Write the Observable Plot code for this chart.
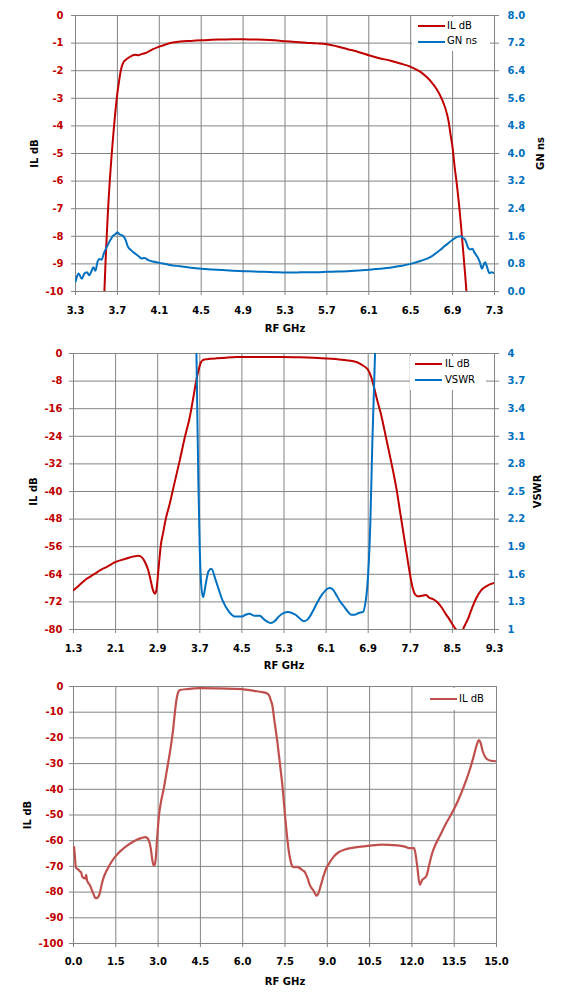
<!DOCTYPE html>
<html><head><meta charset="utf-8">
<script src="https://cdn.jsdelivr.net/npm/d3@7"></script>
<script src="https://cdn.jsdelivr.net/npm/@observablehq/plot@0.6"></script>
<style>
html,body{margin:0;padding:0;background:#fff;}
body{width:564px;height:1005px;overflow:hidden;position:relative;font-family:"DejaVu Sans",sans-serif;}
.panel{position:absolute;left:0;}
.panel svg{overflow:visible;}
.legend{position:absolute;background:#fff;z-index:2;}
.legend .sw{position:absolute;height:2px;}
.legend .tx{position:absolute;white-space:nowrap;color:#000;}
</style></head>
<body>
<div id="p1" class="panel" style="top:0px"></div>
<div id="p2" class="panel" style="top:340px"></div>
<div id="p3" class="panel" style="top:675px"></div>
<script>
// ---------- Chart 1 : IL dB + GN ns (3.3 - 7.3 GHz)
const c1XTicks = [3.3,3.7,4.1,4.5,4.9,5.3,5.7,6.1,6.5,6.9,7.3];
const c1YTicks = [0,-1,-2,-3,-4,-5,-6,-7,-8,-9,-10];
const c1IlFreq = [3.57,3.576,3.586,3.598,3.611,3.627,3.646,3.668,3.694,3.715,3.732,3.757,3.789,3.837,3.87,3.9,3.93,3.96,4.0,4.04,4.1,4.16,4.23,4.3,4.4,4.5,4.6,4.7,4.8,4.9,5.0,5.1,5.2,5.3,5.4,5.5,5.6,5.7,5.8,5.9,6.0,6.1,6.2,6.3,6.4,6.5,6.55,6.6,6.65,6.7,6.75,6.8,6.83,6.86,6.88,6.9,6.92,6.94,6.96,6.98,7.0,7.02,7.035,7.04];
const c1IlDb   = [-10.6,-10,-9,-8,-7,-6,-5,-4,-3,-2.4,-2.0,-1.7,-1.58,-1.46,-1.42,-1.44,-1.40,-1.37,-1.30,-1.22,-1.13,-1.05,-0.98,-0.94,-0.92,-0.90,-0.88,-0.87,-0.86,-0.86,-0.87,-0.88,-0.90,-0.93,-0.96,-0.99,-1.01,-1.04,-1.12,-1.22,-1.32,-1.44,-1.55,-1.63,-1.74,-1.86,-1.95,-2.06,-2.22,-2.42,-2.68,-3.05,-3.35,-3.8,-4.3,-4.8,-5.5,-6.1,-6.8,-7.6,-8.5,-9.4,-10.2,-10.6];
const c1GnFreq = [3.3,3.32,3.33,3.36,3.385,3.41,3.43,3.45,3.47,3.49,3.51,3.53,3.55,3.57,3.6,3.63,3.66,3.68,3.7,3.72,3.75,3.78,3.8,3.83,3.86,3.9,3.93,3.96,4.0,4.05,4.1,4.2,4.3,4.4,4.5,4.6,4.7,4.8,4.9,5.0,5.1,5.2,5.3,5.4,5.5,5.6,5.7,5.8,5.9,6.0,6.1,6.2,6.3,6.4,6.5,6.6,6.7,6.8,6.85,6.9,6.95,6.98,7.0,7.02,7.05,7.07,7.09,7.11,7.14,7.16,7.18,7.2,7.21,7.23,7.25,7.27,7.3];
const c1GnNs   = [0.29,0.48,0.52,0.37,0.52,0.56,0.47,0.57,0.70,0.60,0.86,0.94,0.92,1.10,1.30,1.48,1.62,1.66,1.72,1.66,1.62,1.48,1.30,1.20,1.12,1.03,0.96,0.97,0.90,0.86,0.83,0.77,0.73,0.69,0.66,0.64,0.62,0.60,0.59,0.58,0.57,0.56,0.55,0.55,0.56,0.56,0.57,0.58,0.59,0.61,0.63,0.66,0.69,0.74,0.80,0.89,1.02,1.25,1.38,1.50,1.59,1.60,1.55,1.50,1.26,1.22,1.24,1.12,0.99,0.85,0.66,0.80,0.85,0.70,0.53,0.56,0.53];

// ---------- Chart 2 : IL dB + VSWR (1.3 - 9.3 GHz)
const c2XTicks = [1.3,2.1,2.9,3.7,4.5,5.3,6.1,6.9,7.7,8.5,9.3];
const c2YTicks = [0,-8,-16,-24,-32,-40,-48,-56,-64,-72,-80];
const c2IlFreq = [1.3,1.4,1.55,1.7,1.81,1.95,2.1,2.2,2.31,2.45,2.53,2.6,2.66,2.72,2.77,2.81,2.845,2.875,2.9,2.93,2.96,3.0,3.06,3.13,3.2,3.32,3.42,3.51,3.58,3.64,3.68,3.72,3.76,3.8,3.9,4.02,4.2,4.4,4.8,5.25,5.6,6.1,6.4,6.57,6.7,6.79,6.85,6.9,6.96,7.01,7.07,7.14,7.24,7.33,7.43,7.52,7.6,7.65,7.7,7.74,7.79,7.85,7.92,8.0,8.06,8.13,8.21,8.3,8.37,8.44,8.51,8.56,8.62,8.68,8.73,8.8,8.86,8.95,9.05,9.15,9.3];
const c2IlDb   = [-68.6,-67.3,-65.3,-63.9,-62.8,-61.7,-60.4,-59.9,-59.4,-58.8,-58.6,-59.1,-60.5,-62.8,-66.0,-68.6,-69.6,-68.6,-65.0,-60.0,-55.5,-52.2,-47.5,-43.5,-38.8,-30.9,-24.0,-18.4,-12.5,-7.2,-4.6,-2.6,-1.9,-1.7,-1.55,-1.4,-1.2,-1.05,-1.0,-1.0,-1.1,-1.45,-1.8,-2.1,-2.6,-3.4,-4.0,-4.8,-7.0,-9.7,-13.5,-17.4,-24.5,-30.9,-38.6,-47.3,-55.0,-59.9,-64.5,-67.6,-69.8,-70.4,-70.2,-70.0,-70.8,-71.2,-72.0,-73.7,-75.4,-77.0,-78.7,-79.8,-80.8,-80.5,-79.0,-76.8,-74.3,-71.0,-68.6,-67.4,-66.5];
const c2VsFreq = [3.62,3.635,3.654,3.673,3.70,3.725,3.763,3.814,3.864,3.92,4.0,4.13,4.26,4.38,4.5,4.57,4.65,4.73,4.84,4.92,5.0,5.05,5.12,5.2,5.3,5.37,5.45,5.52,5.6,5.68,5.75,5.84,5.92,6.0,6.08,6.16,6.22,6.28,6.36,6.44,6.52,6.58,6.65,6.72,6.8,6.85,6.88,6.9,6.94,6.98,7.03,7.05];
const c2Vswr   = [4.6,4.04,3.31,2.59,1.86,1.50,1.35,1.50,1.63,1.66,1.54,1.32,1.19,1.14,1.14,1.16,1.17,1.15,1.15,1.11,1.08,1.07,1.09,1.14,1.18,1.19,1.18,1.16,1.12,1.09,1.11,1.19,1.28,1.36,1.42,1.45,1.44,1.39,1.31,1.25,1.19,1.16,1.16,1.18,1.19,1.30,1.45,1.61,2.15,3.06,4.0,4.5];

// ---------- Chart 3 : IL dB (0 - 15 GHz)
const c3XTicks = [0,1.5,3,4.5,6,7.5,9,10.5,12,13.5,15];
const c3YTicks = [0,-10,-20,-30,-40,-50,-60,-70,-80,-90,-100];
const c3IlFreq = [0.02,0.05,0.08,0.13,0.18,0.23,0.27,0.31,0.36,0.41,0.45,0.48,0.53,0.59,0.65,0.71,0.77,0.83,0.88,0.93,1.0,1.07,1.15,1.24,1.35,1.51,1.7,1.9,2.1,2.25,2.4,2.55,2.62,2.68,2.74,2.79,2.84,2.88,2.92,2.96,3.03,3.1,3.2,3.32,3.44,3.53,3.61,3.67,3.72,3.77,4.03,4.5,5.0,5.69,6.1,6.4,6.7,6.87,6.95,7.0,7.05,7.12,7.23,7.33,7.42,7.5,7.57,7.64,7.72,7.8,7.9,8.03,8.12,8.21,8.3,8.39,8.5,8.63,8.7,8.78,8.87,8.96,9.05,9.2,9.4,9.6,9.88,10.2,10.5,10.95,11.3,11.55,11.75,11.9,12.08,12.14,12.2,12.28,12.37,12.45,12.52,12.6,12.73,12.85,12.97,13.2,13.5,13.7,13.9,14.05,14.2,14.3,14.38,14.44,14.5,14.58,14.67,14.8,15.0];
const c3IlDb   = [-62.5,-66,-70.3,-71,-71.3,-72,-72.3,-74,-74.5,-74.7,-73.3,-75.5,-76.5,-77.5,-79.2,-80.8,-82.2,-82.4,-81.8,-80.5,-77,-74.3,-72.2,-70.3,-68.2,-65.8,-63.7,-61.9,-60.5,-59.6,-59.0,-58.6,-59.0,-60.2,-63.0,-67.1,-69.6,-69.4,-66.5,-60,-50.2,-45,-39.8,-32,-24.2,-17,-8.6,-4,-2,-1.4,-1.0,-0.65,-0.7,-0.9,-1.2,-1.7,-2.2,-2.7,-3.8,-5.5,-7.3,-13,-21.6,-31,-39.8,-50.2,-58,-64.5,-68.8,-70.3,-70.2,-70.7,-71.5,-72.3,-74.6,-77.5,-79.2,-81.4,-80,-77,-73.6,-70.8,-69.1,-66.6,-64.5,-63.5,-62.8,-62.3,-61.9,-61.5,-61.7,-61.9,-62.3,-62.9,-62.9,-66,-71,-77.2,-75.2,-74.5,-73.6,-70,-64.5,-61.2,-58.6,-53.5,-47.6,-42.8,-37.2,-32.5,-26.8,-22.7,-20.9,-22,-24.8,-27,-28.3,-28.9,-29.1];

const RED = "#C00000", BLUE = "#0070C0", RED3 = "#C0504D", GRID = "#848484";
const FONT = "DejaVu Sans";
const fmt1 = d3.format(".1f");

function panel(o) {
  const marks = [
    Plot.gridX(o.xTicks, {stroke: GRID, strokeOpacity: 1, strokeWidth: 1}),
    Plot.gridY(o.yTicks, {stroke: GRID, strokeOpacity: 1, strokeWidth: 1}),
    Plot.axisX(o.xTicks, {anchor: "bottom", tickFormat: o.xFmt, tickSize: 4, tickPadding: o.xPad, stroke: GRID, fill: "#000", fontWeight: "bold", label: null}),
    Plot.axisY(o.yTicks, {anchor: "left", tickFormat: d => String(d), tickSize: 4, tickPadding: o.yPad, stroke: GRID, fill: RED, fontWeight: "bold", label: null}),
    Plot.text([o.yTitle], {text: d => d, frameAnchor: "left", dx: o.yTitleDx, rotate: -90, textAnchor: "middle", lineAnchor: "middle", fontWeight: "bold", fill: "#000"}),
    Plot.text(["RF GHz"], {text: d => d, frameAnchor: "bottom", dy: o.xTitleDy, textAnchor: "middle", lineAnchor: "middle", fontWeight: "bold", fill: "#000"})
  ];
  if (o.y2) {
    marks.push(Plot.axisY(o.yTicks, {anchor: "right", tickFormat: o.y2.fmt, tickSize: 4, tickPadding: 9, stroke: GRID, fill: BLUE, fontWeight: "bold", label: null}));
    marks.push(Plot.text([o.y2.title], {text: d => d, frameAnchor: "right", dx: o.y2.titleDx, rotate: -90, textAnchor: "middle", lineAnchor: "middle", fontWeight: "bold", fill: "#000"}));
  }
  for (const s of o.series) {
    const idx = s.x.map((_, i) => i);
    marks.push(Plot.line(idx, {x: i => s.x[i], y: i => s.map ? s.map(s.y[i]) : s.y[i], stroke: s.color, strokeWidth: s.width || 2, clip: true, curve: "monotone-x", strokeLinejoin: "round"}));
  }
  return Plot.plot({
    width: 564, height: o.height,
    marginLeft: o.ml, marginRight: o.mr, marginTop: o.mt, marginBottom: o.mb,
    style: {fontFamily: FONT, fontSize: "10px", background: "transparent", overflow: "visible"},
    x: {domain: o.xDomain},
    y: {domain: o.yDomain},
    marks
  });
}

function legend(host, box, rows) {
  const L = document.createElement("div");
  L.className = "legend";
  L.style.left = box.left + "px"; L.style.top = box.top + "px";
  L.style.width = box.width + "px"; L.style.height = box.height + "px";
  rows.forEach((r, k) => {
    const sw = document.createElement("div");
    sw.className = "sw";
    sw.style.background = r.color;
    sw.style.left = box.swLeft + "px";
    sw.style.width = box.swWidth + "px";
    sw.style.top = (box.firstY + k * box.gap - 1) + "px";
    L.appendChild(sw);
    const t = document.createElement("div");
    t.className = "tx";
    t.textContent = r.label;
    t.style.left = box.txLeft + "px";
    t.style.top = (box.firstY + k * box.gap - 6.5) + "px";
    t.style.fontSize = "10px";
    t.style.lineHeight = "12px";
    t.style.fontFamily = FONT;
    L.appendChild(t);
  });
  host.appendChild(L);
}

// Chart 1
const p1 = document.getElementById("p1");
p1.appendChild(panel({
  height: 338, ml: 75, mr: 70, mt: 15, mb: 47,
  xDomain: [3.3, 7.3], yDomain: [-10, 0],
  xTicks: c1XTicks, yTicks: c1YTicks, xFmt: fmt1, xPad: 11, yPad: 8,
  yTitle: "IL dB", yTitleDx: -41, xTitleDy: 37,
  y2: {fmt: d => fmt1((d + 10) * 0.8), title: "GN ns", titleDx: 46},
  series: [
    {x: c1IlFreq, y: c1IlDb, color: RED},
    {x: c1GnFreq, y: c1GnNs, color: BLUE, map: v => -10 + v * 10 / 8}
  ]
}));
legend(p1, {left: 412, top: 17, width: 78, height: 34, swLeft: 6, swWidth: 27, txLeft: 35, firstY: 9, gap: 15.5},
  [{label: "IL dB", color: RED}, {label: "GN ns", color: BLUE}]);

// Chart 2
const p2 = document.getElementById("p2");
p2.appendChild(panel({
  height: 333, ml: 73, mr: 70, mt: 13, mb: 44,
  xDomain: [1.3, 9.3], yDomain: [-80, 0],
  xTicks: c2XTicks, yTicks: c2YTicks, xFmt: fmt1, xPad: 11, yPad: 7,
  yTitle: "IL dB", yTitleDx: -40, xTitleDy: 36,
  y2: {fmt: d => String(+(1 + (d + 80) / 80 * 3).toFixed(1)), title: "VSWR", titleDx: 43},
  series: [
    {x: c2IlFreq, y: c2IlDb, color: RED},
    {x: c2VsFreq, y: c2Vswr, color: BLUE, map: v => -80 + (v - 1) / 3 * 80}
  ]
}));
legend(p2, {left: 410, top: 16, width: 76, height: 34, swLeft: 5, swWidth: 27, txLeft: 35, firstY: 8, gap: 16},
  [{label: "IL dB", color: RED}, {label: "VSWR", color: BLUE}]);

// Chart 3
const p3 = document.getElementById("p3");
p3.appendChild(panel({
  height: 330, ml: 73, mr: 68, mt: 11, mb: 62,
  xDomain: [0, 15], yDomain: [-100, 0],
  xTicks: c3XTicks, yTicks: c3YTicks, xFmt: fmt1, xPad: 10, yPad: 6,
  yTitle: "IL dB", yTitleDx: -46, xTitleDy: 38,
  series: [
    {x: c3IlFreq, y: c3IlDb, color: RED3, width: 2.2}
  ]
}));
legend(p3, {left: 425, top: 13, width: 70, height: 22, swLeft: 5, swWidth: 27, txLeft: 34, firstY: 11, gap: 16},
  [{label: "IL dB", color: RED3}]);
</script>
</body></html>
